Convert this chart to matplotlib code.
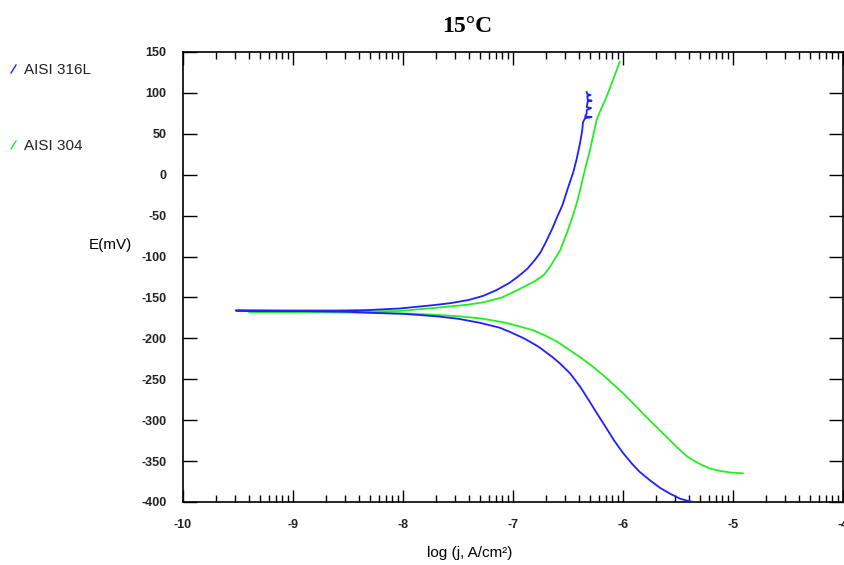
import numpy as np
import matplotlib
matplotlib.use("Agg")
import matplotlib.pyplot as plt
from matplotlib.lines import Line2D

plt.rcParams['font.family'] = ['Liberation Sans', 'DejaVu Sans']

# ==============================
# dados (log j, E em mV)
# ==============================
# AISI 316L - ramo catodico (a partir de Ecorr)
b_cat_logj = [-9.52, -9.0, -8.5, -8.24, -8.0, -7.7, -7.5, -7.30, -7.12, -7.03, -6.9, -6.77,
              -6.64, -6.57, -6.48, -6.39, -6.30, -6.24, -6.15, -6.08, -6.00, -5.92, -5.85,
              -5.75, -5.66, -5.57, -5.48, -5.40, -5.30]
b_cat_E = [-166, -166.5, -167.5, -169, -170, -173, -176, -181, -187, -192, -200, -210,
           -223, -231, -243, -259, -278, -291, -310, -325, -340, -353, -363,
           -374, -383, -390, -396, -399, -401]
# AISI 316L - ramo anodico
b_an_logj = [-9.52, -9.0, -8.6, -8.33, -8.03, -7.73, -7.57, -7.4, -7.27, -7.15, -7.03, -6.95,
             -6.87, -6.80, -6.75, -6.70, -6.64, -6.60, -6.55, -6.50, -6.45, -6.42, -6.39,
             -6.37, -6.364, -6.345, -6.285, -6.345, -6.33, -6.33, -6.29, -6.33, -6.32,
             -6.285, -6.32, -6.325, -6.295, -6.325, -6.33]
b_an_E = [-166, -166, -166, -165.5, -163.5, -159.5, -157, -153, -148, -141, -132, -124,
          -115, -104, -95, -82, -65, -52, -37, -16, 4, 20, 39,
          55, 64, 69, 70.5, 71, 75, 79, 81.5, 82.5, 90,
          90.5, 91.5, 96, 97.5, 98.5, 101]

# AISI 304 - ramo catodico
g_cat_logj = [-9.40, -9.0, -8.5, -8.0, -7.73, -7.5, -7.30, -7.1, -6.95, -6.82, -6.70, -6.60,
              -6.50, -6.39, -6.28, -6.18, -6.09, -6.00, -5.89, -5.78, -5.69, -5.60, -5.51,
              -5.42, -5.35, -5.28, -5.21, -5.12, -5.02, -4.91]
g_cat_E = [-168, -168, -168.5, -169.5, -171, -173, -175.5, -180, -185, -190, -197, -204,
           -213, -223, -234, -245, -256, -267, -282, -297, -309, -321, -333,
           -344, -350, -355, -359, -362, -364, -365]
# AISI 304 - ramo anodico
g_an_logj = [-9.40, -9.0, -8.5, -8.03, -7.73, -7.42, -7.27, -7.1, -6.96, -6.90, -6.80, -6.72,
             -6.67, -6.62, -6.57, -6.51, -6.46, -6.41, -6.35, -6.30, -6.24, -6.20, -6.15,
             -6.09, -6.03]
g_an_E = [-168, -167.5, -167.5, -166.5, -163, -159, -156, -150, -141, -137, -130, -122.5,
          -114, -103, -92, -71, -52, -30, 4, 30, 67, 80, 95, 116, 138]

series_names = ["AISI 316L", "AISI 304"]
series_colors = ["#1f1fff", "#22ee22"]

x_major = [-10, -9, -8, -7, -6, -5, -4]
y_major = list(range(-400, 151, 50))

W, H = 845, 565
fig = plt.figure(figsize=(W / 100, H / 100), dpi=100)
ax = fig.add_axes([183 / W, 1 - 502 / H, 660 / W, 450 / H])

# curvas: catodico invertido + anodico
blue_x = b_cat_logj[::-1] + b_an_logj
blue_y = b_cat_E[::-1] + b_an_E
green_x = g_cat_logj[::-1] + g_an_logj
green_y = g_cat_E[::-1] + g_an_E

ax.plot(green_x, green_y, color=series_colors[1], lw=1.3, zorder=3)
ax.plot(blue_x, blue_y, color=series_colors[0], lw=1.3, zorder=4)

ax.set_xlim(-10, -4)
ax.set_ylim(-400, 150)

# ticks (minor logaritmicos em cada decada)
minor = [d + np.log10(k) for d in x_major[:-1] for k in range(2, 10)]
ax.set_xticks(x_major)
ax.set_xticks(minor, minor=True)
ax.set_yticks(y_major)
ax.set_xticklabels([str(v) for v in x_major])
ax.set_yticklabels([str(v) for v in y_major])

ax.tick_params(axis='x', which='major', direction='in', length=9, width=1,
               top=True, pad=12, labelsize=9)
ax.tick_params(axis='x', which='minor', direction='in', length=5, width=1, top=True)
ax.tick_params(axis='y', which='major', direction='in', length=10, width=1,
               right=True, pad=12, labelsize=9)
for lab in ax.get_xticklabels() + ax.get_yticklabels():
    lab.set_fontweight('bold')
    lab.set_color('#222222')
for sp in ax.spines.values():
    sp.set_linewidth(1.2)

# textos
fig.text(467 / W, 1 - 27 / H, "15°C", ha='center', va='center',
         fontfamily='Liberation Serif', fontweight='bold', fontsize=17)
fig.text(110 / W, 1 - 245 / H, "E(mV)", ha='center', va='center', fontsize=11)
fig.text(470 / W, 1 - 553 / H, "log (j, A/cm²)", ha='center', va='center', fontsize=11)

# legenda manual
for i, (name, col) in enumerate(zip(series_names, series_colors)):
    yc = 70 + i * 76
    fig.add_artist(Line2D([11 / W, 16 / W], [1 - (yc + 3) / H, 1 - (yc - 5) / H],
                          color=col, lw=1))
    fig.text(24 / W, 1 - yc / H, name, ha='left', va='center', fontsize=11,
             color='#222222')

fig.savefig("out.png", dpi=100)
